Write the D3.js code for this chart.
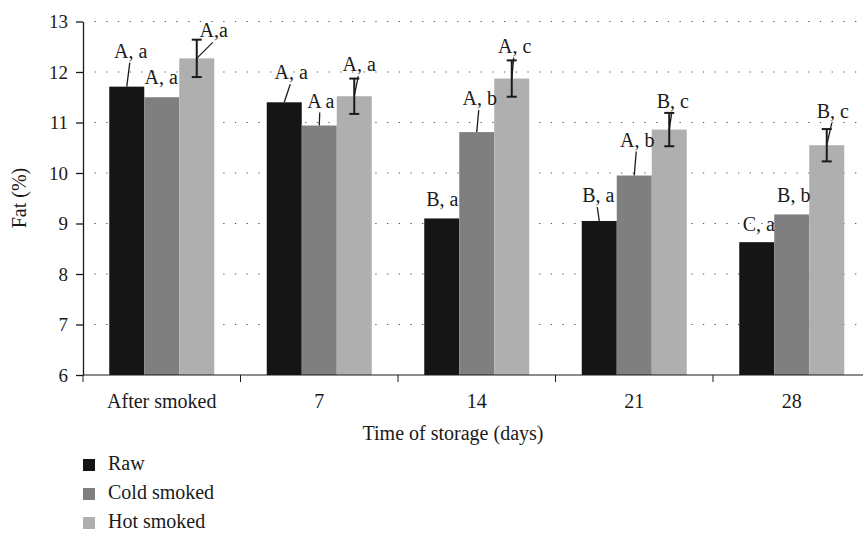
<html>
	<head>
		<title></title>
		<script type="text/javascript" src="https://d3js.org/d3.v7.min.js"></script>
		<style>
			body {
				margin: 0;
				background: #fff;
			}
			text {
				font-family: "Liberation Serif", "Times New Roman", serif;
				fill: #1a1a1a;
			}
		</style>
	</head>
	<body>
		<div></div>

		<script>
			//Chart data
			var categories = ["After smoked", "7", "14", "21", "28"];
			var series = ["Raw", "Cold smoked", "Hot smoked"];
			var raw = [11.71, 11.40, 9.10, 9.05, 8.63];
			var cold = [11.50, 10.94, 10.81, 9.95, 9.18];
			var hot = [12.27, 11.52, 11.87, 10.86, 10.55];
			var hotError = [0.37, 0.35, 0.36, 0.33, 0.32];
			var yTicks = [6, 7, 8, 9, 10, 11, 12, 13];

			//Significance letters for each series
			var rawLetters = ["A, a", "A, a", "B, a", "B, a", "C, a"];
			var coldLetters = ["A, a", "A a", "A, b", "A, b", "B, b"];
			var hotLetters = ["A,a", "A, a", "A, c", "B, c", "B, c"];

			//Where each letter sits relative to its bar top: [dx, dy, leader line?]
			var rawLabelPos = [[4,-29,1],[7,-23,1],[0.5,-12,0],[-1,-19,1],[2,-11,0]];
			var coldLabelPos = [[-0.5,-13,0],[1.5,-18,1],[3,-27,1],[3,-29,1],[2,-12,0]];
			var hotLabelPos = [[17,-21,1],[5,-25,1],[3,-26,1],[3.5,-22,1],[6,-27,1]];

			var colors = ["#151515", "#7f7f7f", "#afafaf"];

			var canvasWidth = 863;
			var canvasHeight = 533;
			var serif = "'Liberation Serif', 'Times New Roman', serif";

			var canvas = d3.select("div").append("svg")
							.attr("width", canvasWidth)
							.attr("height", canvasHeight);

			//Scales
			var x0 = d3.scaleBand().domain(categories).range([83, 870.5]).paddingInner(1/3).paddingOuter(1/6);
			var x1 = d3.scaleBand().domain(series).range([0, x0.bandwidth()]);
			var y = d3.scaleLinear().domain([6, 13]).range([375, 21.5]);

			var values = [raw, cold, hot];
			var letters = [rawLetters, coldLetters, hotLetters];
			var labelPos = [rawLabelPos, coldLabelPos, hotLabelPos];

			var rows = [];
			series.forEach(function(s, si){
				categories.forEach(function(c, ci){
					rows.push({series: s, si: si, cat: c, ci: ci, value: values[si][ci],
						label: letters[si][ci], pos: labelPos[si][ci],
						err: si == 2 ? hotError[ci] : null});
				});
			});

			//Dotted grid lines
			canvas.append("g").selectAll("line").data(yTicks.slice(1)).enter().append("line")
				.attr("x1", 94.5).attr("x2", canvasWidth)
				.attr("y1", function(d){ return y(d); })
				.attr("y2", function(d){ return y(d); })
				.attr("stroke", "#555")
				.attr("stroke-width", 1.2)
				.attr("stroke-dasharray", "1.3,10.4");

			//Bars
			canvas.append("g").selectAll("rect").data(rows).enter().append("rect")
				.attr("x", function(d){ return x0(d.cat) + x1(d.series); })
				.attr("width", x1.bandwidth())
				.attr("y", function(d){ return y(d.value); })
				.attr("height", function(d){ return y(6) - y(d.value); })
				.attr("fill", function(d){ return colors[d.si]; });

			//Error bars (hot smoked only)
			var errRows = rows.filter(function(d){ return d.err != null; });
			var eg = canvas.append("g").attr("stroke", "#1a1a1a").attr("stroke-width", 2);
			errRows.forEach(function(d){
				var cx = x0(d.cat) + x1(d.series) + x1.bandwidth()/2;
				eg.append("line").attr("x1", cx).attr("x2", cx)
					.attr("y1", y(d.value + d.err)).attr("y2", y(d.value - d.err));
				eg.append("line").attr("x1", cx - 5).attr("x2", cx + 5)
					.attr("y1", y(d.value + d.err)).attr("y2", y(d.value + d.err));
				eg.append("line").attr("x1", cx - 5).attr("x2", cx + 5)
					.attr("y1", y(d.value - d.err)).attr("y2", y(d.value - d.err));
			});

			//Letters and leader lines
			var lg = canvas.append("g");
			rows.forEach(function(d){
				var cx = x0(d.cat) + x1(d.series) + x1.bandwidth()/2;
				var ty = y(d.value);
				var tx = cx + d.pos[0];
				var tb = ty + d.pos[1];
				lg.append("text").text(d.label)
					.attr("x", tx).attr("y", tb)
					.attr("text-anchor", "middle")
					.style("font-size", "20px");
				if(d.pos[2]){
					lg.append("line")
						.attr("x1", tx - 1).attr("y1", tb + 5)
						.attr("x2", cx).attr("y2", ty)
						.attr("stroke", "#1a1a1a").attr("stroke-width", 1.3);
				}
			});

			//Axes
			var axis_left = canvas.append("g").attr("transform", "translate(83,0)")
				.call(d3.axisLeft(y).tickValues(yTicks).tickFormat(d3.format("d")).tickSize(7).tickPadding(8).tickSizeOuter(0))
				.attr("font-family", serif).attr("font-size", 19);
			axis_left.selectAll("text").style("font-size", "19px").style("font-family", serif).attr("fill", "#1a1a1a");

			var axis_bottom = canvas.append("g").attr("transform", "translate(0,375)")
				.call(d3.axisBottom(x0).tickSize(0).tickPadding(19).tickSizeOuter(0))
				.attr("font-family", serif).attr("font-size", 20);
			axis_bottom.selectAll("text").style("font-size", "20px").style("font-family", serif).attr("fill", "#1a1a1a");
			axis_bottom.select(".domain").remove();
			axis_bottom.append("line").attr("x1", 83).attr("x2", 870.5).attr("stroke", "#1a1a1a");

			//Tick marks between categories
			var bounds = categories.map(function(c){ return x0(c) - x0.step()*x0.paddingOuter(); });
			bounds.push(x0.range()[1]);
			axis_bottom.selectAll(".bound").data(bounds).enter().append("line")
				.attr("class", "bound")
				.attr("x1", function(d){ return d; }).attr("x2", function(d){ return d; })
				.attr("y1", 0).attr("y2", 7)
				.attr("stroke", "#1a1a1a");

			canvas.selectAll(".domain, .tick line").attr("stroke", "#1a1a1a").attr("stroke-width", 1.3);

			//Axis titles
			canvas.append("text").text("Time of storage (days)")
				.attr("x", 453).attr("y", 440)
				.attr("text-anchor", "middle")
				.style("font-size", "20px");

			canvas.append("text").text("Fat (%)")
				.attr("transform", "translate(26,198) rotate(-90)")
				.attr("text-anchor", "middle")
				.style("font-size", "20px");

			//Legend
			var legend = canvas.append("g").selectAll("g").data(series).enter().append("g")
				.attr("transform", function(d, i){ return "translate(83," + (459 + i*29) + ")"; });
			legend.append("rect").attr("width", 12).attr("height", 12)
				.attr("fill", function(d, i){ return colors[i]; });
			legend.append("text").text(function(d){ return d; })
				.attr("x", 25).attr("y", 11)
				.style("font-size", "20px");
		</script>
	</body>
</html>
